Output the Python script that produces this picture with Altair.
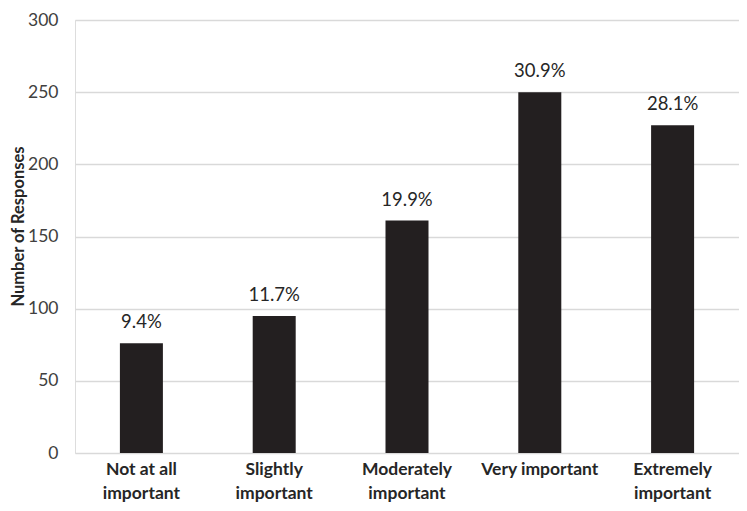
import altair as alt
import pandas as pd

categories = ["Not at all|important", "Slightly|important", "Moderately|important",
              "Very important", "Extremely|important"]
counts = [76, 95, 161, 250, 227]
pct_labels = ["9.4%", "11.7%", "19.9%", "30.9%", "28.1%"]
y_ticks = [0, 50, 100, 150, 200, 250, 300]

df = pd.DataFrame({"cat": categories, "count": counts, "pct": pct_labels})

FONT = "Lato"
TXT = "#262626"

x = alt.X("cat:N", sort=categories, title=None,
          scale=alt.Scale(paddingInner=0.68, paddingOuter=0.34),
          axis=alt.Axis(labelAngle=0, labelExpr="split(datum.label, '|')",
                        labelFont=FONT, labelFontSize=17.5, labelFontWeight="bold",
                        labelColor=TXT, labelPadding=7, labelLineHeight=24,
                        ticks=False, domain=False, grid=False))
y = alt.Y("count:Q", title="Number of Responses",
          scale=alt.Scale(domain=[0, 300]),
          axis=alt.Axis(values=y_ticks, labelFont=FONT, labelFontSize=17.5,
                        labelColor="#404040", labelPadding=17, ticks=False,
                        domain=False, gridColor="#d9d9d9", gridWidth=1.5,
                        titleFont=FONT, titleFontSize=16.5, titleFontWeight="bold",
                        titleColor=TXT, titlePadding=1, titleY=206))

bars = alt.Chart(df).mark_bar(color="#231f20", size=43).encode(x=x, y=y)
text = alt.Chart(df).mark_text(font=FONT, fontSize=18.5, color=TXT, dy=-21).encode(
    x=alt.X("cat:N", sort=categories), y="count:Q", text="pct:N")

chart = (bars + text).properties(
    width=664, height=433,
    autosize=alt.AutoSizeParams(type="none"),
    padding={"left": 67, "top": 12, "right": 0, "bottom": 50},
).configure_view(stroke=None).configure(background="white")

chart.save("out.html", embed_options={"renderer": "svg", "actions": False})
